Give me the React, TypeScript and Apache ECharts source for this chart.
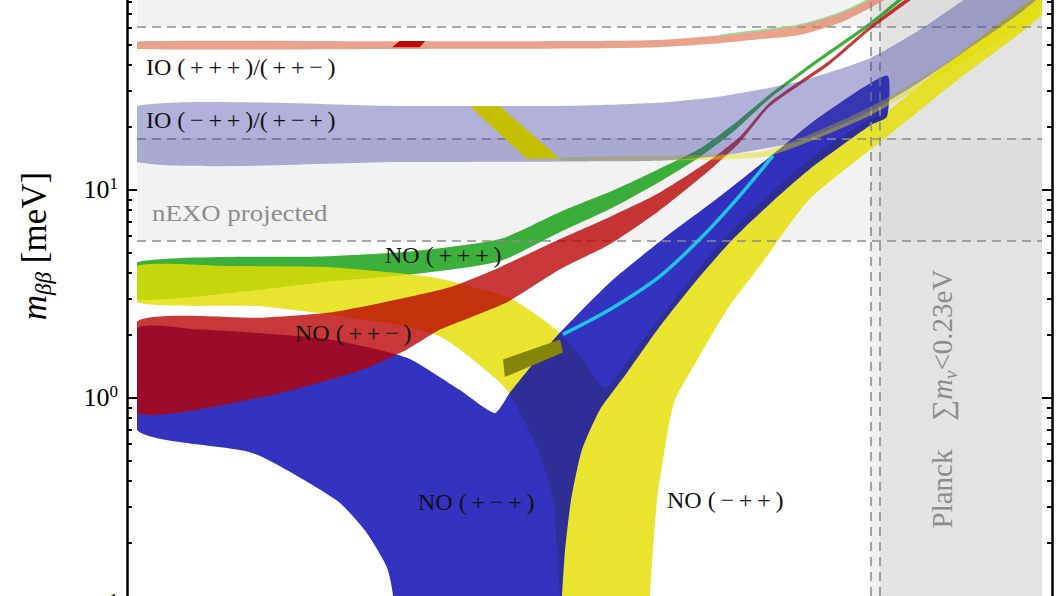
import React, { useEffect, useRef } from 'react';
import * as echarts from 'echarts';

type P = [number, number];

// ---------- axes (lightest neutrino mass m0 and m_bb, both in meV) ----------
const m0Range: P = [0.1, 300];
const mbbRange: P = [0.08, 114];
const majorTicks = [0.1, 1, 10, 100];
const labelTicks = [0.1, 1, 10];
const minorTicks = [0.09, 0.2, 0.3, 0.4, 0.5, 0.6, 0.7, 0.8, 0.9, 2, 3, 4, 5, 6, 7, 8, 9, 20, 30, 40, 50, 60, 70, 80, 90];

// ---------- experimental limits (meV) ----------
const kamlandZenLimit = 61;
const nexoRange: P = [5.7, 17.7];
const planckLimits: P = [66, 71.5];

// ---------- IO bands ----------
const ioPPPUpper: P[] = [[0.1, 51.7], [1, 51.7], [5, 51.9], [10, 52.5], [17.4, 55.4], [25, 58.6], [35, 62], [50, 70.8], [65.5, 83.0], [100, 112], [150, 158]];
const ioPPPLower: P[] = [[0.1, 47.6], [1, 47.6], [5, 47.8], [10, 48.5], [17.4, 50.7], [25, 53.1], [35, 55.4], [50, 63.4], [65.5, 74.9], [100, 101], [150, 142]];
const ioPPPEdge: P[] = [[17.4, 55.4], [25, 58.6], [35, 62], [50, 70.8], [65.5, 83.0], [100, 112]];
const ioMPPUpper: P[] = [[0.1, 25.3], [1, 25.3], [5, 25.4], [10, 26.2], [17.4, 28.1], [35, 33.2], [65.5, 42.9], [100, 58], [150, 82], [300, 158]];
const ioMPPLower: P[] = [[0.1, 13.6], [1, 13.6], [5, 13.7], [10, 13.8], [17.4, 14.6], [35, 17.1], [65.5, 23.8], [100, 32.5], [150, 46], [300, 88]];
const ioYellowUpper: P[] = [[4.22, 14.3], [14.55, 14.7], [27, 15.6], [65.5, 25.0], [145, 45], [300, 83.7]];
const ioYellowLower: P[] = [[4.22, 13.8], [14.55, 13.9], [27, 14.6], [65.5, 22.8], [145, 40.5], [300, 70.7]];
const ioRedSpot: P[] = [[0.955, 48.5], [1.02, 51.9], [1.28, 51.9], [1.22, 48.5]];
const ioYellowSpot: P[] = [[1.9, 25.2], [2.48, 25.2], [4.22, 14.1], [3.15, 14.1]];

// ---------- NO bands ----------
const noPPPUpper: P[] = [[0.1, 4.49], [0.55, 4.8], [1.15, 5.07], [2.48, 5.8], [4.22, 7.83], [6.56, 9.78], [10, 12.5], [14.55, 15.8], [20, 21.1], [27, 28.8], [40, 41.5], [65.5, 64.1], [100, 98.5]];
const noPPPLower: P[] = [[0.1, 2.97], [0.55, 3.63], [1.15, 3.93], [2.48, 4.54], [4.22, 6.27], [6.56, 8.09], [10, 10.8], [14.55, 14.4], [20, 19.5], [27, 27.5], [40, 39.7], [65.5, 61.3], [100, 94.6]];

const noMPPUpper: P[] = [[0.1, 4.3], [0.228, 4.3], [0.551, 4.25], [1.3, 3.84], [1.9, 3.44], [2.78, 2.97], [4.11, 2.11], [5.04, 1.6], [6.28, 1.12], [7.63, 1.5], [10.2, 2.43], [14.55, 4.25], [19.5, 6.48], [27, 9.57], [38.5, 14.1], [65.5, 22.0], [76.1, 23.8], [145, 45.4], [300, 88.5]];
const noMPPLower: P[] = [[0.1, 2.88], [0.305, 2.75], [1.0, 2.25], [1.46, 1.97], [1.95, 1.53], [2.64, 1.09], [3.44, 0.58], [3.97, 0.321], [4.1, 0.184], [4.22, 0.11], [4.25, 0.05], [9.25, 0.05], [9.35, 0.11], [9.95, 0.321], [10.96, 0.7], [11.67, 0.978], [13.7, 1.41], [18.5, 2.66], [24.7, 4.3], [38.5, 9.05], [76.1, 18.0], [145, 34.4], [300, 69.3]];

const noPMPUpper: P[] = [[0.1, 2.15], [0.175, 2.13], [0.272, 2.06], [0.551, 1.91], [1.09, 1.56], [1.74, 1.09], [2.37, 0.846], [2.71, 1.06], [3.38, 1.49], [4.22, 2.06], [6.56, 3.59], [10.5, 5.8], [16.9, 9.05], [27, 14.4], [42.1, 22.5], [76.1, 35.5]];
const noPMPLower: P[] = [[0.1, 0.7], [0.279, 0.542], [0.586, 0.321], [0.752, 0.23], [0.913, 0.153], [0.965, 0.11], [0.98, 0.05], [4.07, 0.05], [4.29, 0.11], [4.41, 0.184], [4.65, 0.321], [5.12, 0.561], [6.0, 0.875], [7.63, 1.32], [10.2, 2.2], [14.55, 3.84], [19.5, 5.8], [27, 8.56], [38.5, 12.6], [65.5, 20.4], [76.1, 22.5]];

const noPPMUpper: P[] = [[0.1, 2.33], [0.305, 2.43], [0.551, 2.57], [1.0, 2.97], [1.59, 3.4], [2.48, 4.25], [4.22, 5.8], [6.56, 7.41], [10, 9.57], [15.8, 13.8], [20.7, 18.0], [27, 26.3], [46, 42.0], [65.5, 61.3], [102, 92.5]];
const noPPMLower: P[] = [[0.1, 0.846], [0.305, 1.01], [0.738, 1.37], [1.09, 1.71], [1.46, 2.13], [1.9, 2.43], [2.64, 2.88], [4.22, 4.15], [6.56, 5.48], [10, 7.83], [15.8, 12.4], [20.7, 16.9], [27, 25.2], [46, 40.2], [65.5, 58.6], [102, 88.5]];

const noOliveSpot: P[] = [[2.55, 1.53], [4.22, 1.91], [4.33, 1.65], [2.59, 1.26]];
const noCyanLine: P[] = [[4.33, 2.02], [6.56, 2.66], [10.2, 3.84], [14.55, 5.8], [20.2, 9.05], [27.8, 14.6]];

// ---------- labels ----------
const T = '\u2009';
const signs = (s: string) => '(' + T + s.split('').join(T) + T + ')';
const bandLabels = [
  { text: 'IO ' + signs('+++') + '/' + signs('++−'), x: 146, y: 67 },
  { text: 'IO ' + signs('−++') + '/' + signs('+−+'), x: 146, y: 120 },
  { text: 'NO ' + signs('+++'), x: 385, y: 255 },
  { text: 'NO ' + signs('++−'), x: 295, y: 333 },
  { text: 'NO ' + signs('+−+'), x: 418, y: 502 },
  { text: 'NO ' + signs('−++'), x: 667, y: 500 },
];

const FONT = '"Liberation Serif", "Times New Roman", serif';
const SHIFT = 30; // the chart canvas starts 30px above the visible window

const polygon = (upper: P[], lower: P[]): P[] => [...upper, ...lower.slice().reverse()];

function areaSeries(name: string, pts: P[], color: string, z: number, smooth = 0.2) {
  return {
    type: 'custom',
    name,
    coordinateSystem: 'cartesian2d',
    z,
    silent: true,
    clip: true,
    data: [pts[0]],
    encode: { x: 0, y: 1 },
    renderItem: (_params: any, api: any) => ({
      type: 'polygon',
      shape: { points: pts.map((pt) => api.coord(pt)), smooth },
      style: { fill: color, stroke: 'none' },
    }),
  };
}

function lineSeries(name: string, pts: P[], color: string, width: number, z: number) {
  return {
    type: 'line',
    name,
    data: pts,
    z,
    silent: true,
    smooth: 0.3,
    symbol: 'none',
    showSymbol: false,
    lineStyle: { color, width },
  };
}

export default function App() {
  const ref = useRef<HTMLDivElement>(null);

  useEffect(() => {
    document.body.style.margin = '0';
    if (!ref.current) return;
    const chart = echarts.init(ref.current, undefined, { renderer: 'svg' });

    const yCommon = {
      type: 'log',
      logBase: 10,
      min: mbbRange[0],
      max: mbbRange[1],
      splitLine: { show: false },
      minorTick: { show: false },
    };
    const labelFormatter = (v: number) => {
      const e = Math.round(Math.log10(v));
      return '{b|10}{s|' + String(e).replace('-', '−') + '}';
    };
    const labelRich = {
      b: { fontFamily: FONT, fontSize: 26, color: '#000', lineHeight: 30 },
      s: { fontFamily: FONT, fontSize: 17, color: '#000', lineHeight: 14, verticalAlign: 'top' },
    };
    const txt = (text: string, x: number, y: number, fill: string, extra: any = {}) => ({
      type: 'text',
      x,
      y: y + SHIFT,
      z: 100,
      silent: true,
      ...extra,
      style: { text, fill, font: '24px ' + FONT, textAlign: 'left', textVerticalAlign: 'middle', align: 'left', verticalAlign: 'middle' },
    });

    const option: any = {
      animation: false,
      backgroundColor: '#fff',
      grid: { left: 137, right: 20, top: 0, bottom: 0, containLabel: false },
      xAxis: {
        type: 'log',
        logBase: 10,
        min: m0Range[0],
        max: m0Range[1],
        show: false,
        splitLine: { show: false },
      },
      yAxis: [
        {
          ...yCommon,
          position: 'left',
          offset: 10,
          axisLine: { show: true, lineStyle: { color: '#000', width: 2.5 } },
          axisTick: { show: true, inside: true, length: 10, lineStyle: { color: '#000', width: 2 }, customValues: majorTicks },
          axisLabel: { show: true, margin: 9, customValues: labelTicks, formatter: labelFormatter, rich: labelRich },
          name: '{m|m}{s|ββ}{u| [meV]}',
          nameLocation: 'middle',
          nameRotate: 90,
          nameGap: 72,
          nameTextStyle: {
            padding: [0, 0, 0, 104],
            rich: {
              m: { fontFamily: FONT, fontStyle: 'italic', fontSize: 35, lineHeight: 42, color: '#000' },
              s: { fontFamily: FONT, fontStyle: 'italic', fontSize: 23, lineHeight: 22, verticalAlign: 'bottom', color: '#000' },
              u: { fontFamily: FONT, fontSize: 35, lineHeight: 42, color: '#000' },
            },
          },
        },
        {
          ...yCommon,
          position: 'left',
          offset: 10,
          axisLine: { show: false },
          axisTick: { show: true, inside: true, length: 5, lineStyle: { color: '#000', width: 2 }, customValues: minorTicks },
          axisLabel: { show: false },
        },
        {
          ...yCommon,
          position: 'right',
          offset: 10,
          axisLine: { show: true, lineStyle: { color: '#000', width: 2.5 } },
          axisTick: { show: true, inside: true, length: 10, lineStyle: { color: '#000', width: 2 }, customValues: majorTicks },
          axisLabel: { show: false },
        },
        {
          ...yCommon,
          position: 'right',
          offset: 10,
          axisLine: { show: false },
          axisTick: { show: true, inside: true, length: 5, lineStyle: { color: '#000', width: 2 }, customValues: minorTicks },
          axisLabel: { show: false },
        },
      ],
      series: [
        areaSeries('NO (+++)', polygon(noPPPUpper, noPPPLower), 'rgba(11,155,11,0.8)', 2),
        areaSeries('NO (−++)', polygon(noMPPUpper, noMPPLower), 'rgba(227,222,2,0.82)', 3),
        areaSeries('NO (+−+)', polygon(noPMPUpper, noPMPLower), 'rgba(0,0,176,0.8)', 4),
        areaSeries('NO (++−)', polygon(noPPMUpper, noPPMLower), 'rgba(184,0,0,0.78)', 5),
        areaSeries('NO olive', noOliveSpot, '#85850a', 6, 0),
        lineSeries('NO cyan', noCyanLine, '#20c4e6', 3.5, 6),
        areaSeries('IO yellow', polygon(ioYellowUpper, ioYellowLower), 'rgba(227,222,2,0.45)', 7),
        areaSeries('IO (+++)/(++−)', polygon(ioPPPUpper, ioPPPLower), 'rgba(222,120,85,0.68)', 8),
        lineSeries('IO edge', ioPPPEdge, '#98dc98', 1.6, 8),
        areaSeries('IO (−++)/(+−+)', polygon(ioMPPUpper, ioMPPLower), 'rgba(60,60,160,0.4)', 9),
        areaSeries('IO yellow spot', ioYellowSpot, '#c4c000', 10, 0),
        areaSeries('IO red spot', ioRedSpot, '#bf0a0a', 10, 0),
        {
          type: 'line',
          name: 'excluded regions',
          data: [],
          z: 11,
          silent: true,
          markArea: {
            silent: true,
            data: [
              [{ yAxis: kamlandZenLimit, itemStyle: { color: 'rgba(210,210,210,0.28)' } }, { yAxis: mbbRange[1] }],
              [{ yAxis: nexoRange[0], itemStyle: { color: 'rgba(210,210,210,0.28)' } }, { yAxis: nexoRange[1] }],
              [{ xAxis: planckLimits[0], itemStyle: { color: 'rgba(200,200,200,0.29)' } }, { xAxis: m0Range[1] }],
              [{ xAxis: planckLimits[1], itemStyle: { color: 'rgba(200,200,200,0.29)' } }, { xAxis: m0Range[1] }],
            ],
          },
        },
        {
          type: 'line',
          name: 'limits',
          data: [],
          z: 12,
          silent: true,
          markLine: {
            silent: true,
            symbol: ['none', 'none'],
            label: { show: false },
            lineStyle: { type: [9, 6], color: '#8c8c8c', width: 1.6 },
            data: [
              { yAxis: kamlandZenLimit },
              { yAxis: nexoRange[1] },
              { yAxis: nexoRange[0] },
              { xAxis: planckLimits[0] },
              { xAxis: planckLimits[1] },
            ],
          },
        },
      ],
      graphic: [
        ...bandLabels.map((l) => txt(l.text, l.x, l.y, '#111')),
        txt('nEXO projected', 152, 213, '#8c8c8c', { scaleX: 1.12 }),
        {
          type: 'text',
          x: 942,
          y: 399 + SHIFT,
          z: 100,
          rotation: Math.PI / 2,
          silent: true,
          style: {
            text: 'Planck\u2003∑{pm|m}{ps|ν}<0.23eV',
            fill: '#8c8c8c',
            font: '29px ' + FONT,
            textAlign: 'center',
            textVerticalAlign: 'middle',
            align: 'center',
            verticalAlign: 'middle',
            rich: {
              pm: { fontFamily: FONT, fontStyle: 'italic', fontSize: 29, lineHeight: 36, color: '#8c8c8c' },
              ps: { fontFamily: FONT, fontStyle: 'italic', fontSize: 19, lineHeight: 19, verticalAlign: 'bottom', color: '#8c8c8c' },
            },
          },
        },
      ],
    };

    chart.setOption(option);
    return () => chart.dispose();
  }, []);

  return (
    <div style={{ position: 'relative', width: 1062, height: 596, overflow: 'hidden' }}>
      <div ref={ref} style={{ position: 'absolute', left: 0, top: -SHIFT, width: 1062, height: 596 + 2 * SHIFT }} />
    </div>
  );
}
